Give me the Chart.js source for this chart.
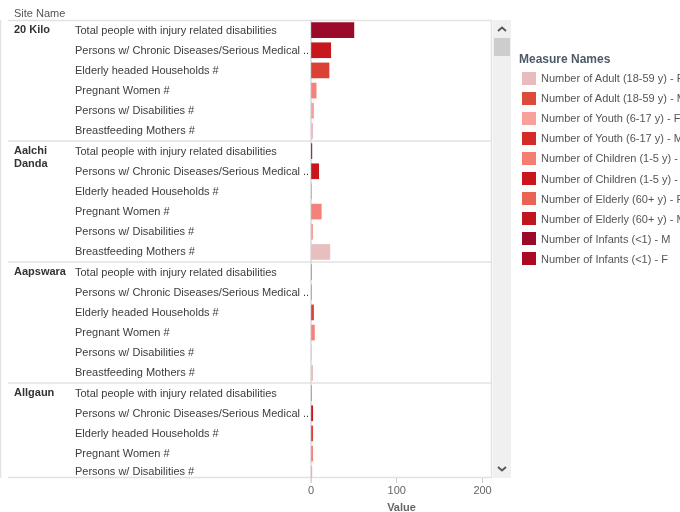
<!DOCTYPE html>
<html><head><meta charset="utf-8">
<script src="https://cdn.jsdelivr.net/npm/chart.js@4/dist/chart.umd.min.js"></script>
<style>
html,body{margin:0;padding:0;background:#fff;overflow:hidden;}
#wrap{position:relative;width:680px;height:512px;overflow:hidden;font-family:Arial,"Liberation Sans",sans-serif;}
#c{position:absolute;left:0;top:0;}
.track{position:absolute;left:493px;top:20px;width:18px;height:458px;background:#f0f0f0;}
.thumb{position:absolute;left:494px;top:38px;width:16px;height:18px;background:#cdcdcd;}
.arrow{position:absolute;left:497px;width:10px;height:6px;}
.lg-title{position:absolute;left:519px;top:51px;font:bold 12px Arial,"Liberation Sans",sans-serif;color:#4e5a6a;white-space:nowrap;line-height:16px;}
.lg-sw{position:absolute;left:522px;width:14px;height:13px;}
.lg-tx{position:absolute;left:541px;font:11px Arial,"Liberation Sans",sans-serif;color:#555;white-space:nowrap;line-height:14px;}
</style>
</head><body>
<div id="wrap">
<canvas id="c" width="680" height="512"></canvas>
<div class="track"></div>
<div class="thumb"></div>
<svg class="arrow" style="top:26px" viewBox="0 0 10 6"><polyline points="1,5 5,1.5 9,5" fill="none" stroke="#555" stroke-width="1.8"/></svg>
<svg class="arrow" style="top:466px" viewBox="0 0 10 6"><polyline points="1,1 5,4.5 9,1" fill="none" stroke="#555" stroke-width="1.8"/></svg>
<div class="lg-title">Measure Names</div>
<div id="legend"></div>
</div>
<script>
// ---- data ----
const sites = ['20 Kilo', 'Aalchi Danda', 'Aapswara', 'Allgaun'];
const measures = [
  'Total people with injury related disabilities',
  'Persons w/ Chronic Diseases/Serious Medical ..',
  'Elderly headed Households #',
  'Pregnant Women #',
  'Persons w/ Disabilities #',
  'Breastfeeding Mothers #'
];
const measureColors = ['#9b0a2a', '#c8171c', '#dc4136', '#f4827a', '#f6a19b', '#e8bfc0'];
const values20Kilo = [50, 23, 21, 6, 3, 2];
const valuesAalchiDanda = [1, 9, 0, 12, 2, 22];
const valuesAapswara = [0, 0, 3, 4, 0, 2];
const valuesAllgaun = [0, 2, 2, 2, 1];
const siteValues = [values20Kilo, valuesAalchiDanda, valuesAapswara, valuesAllgaun];
const xTicks = [0, 100, 200];
const legendNames = [
  'Number of Adult (18-59 y) - F', 'Number of Adult (18-59 y) - M',
  'Number of Youth (6-17 y) - F', 'Number of Youth (6-17 y) - M',
  'Number of Children (1-5 y) - F', 'Number of Children (1-5 y) - M',
  'Number of Elderly (60+ y) - F', 'Number of Elderly (60+ y) - M',
  'Number of Infants (<1) - M', 'Number of Infants (<1) - F'
];
const legendColors = ['#e8bcbc', '#dc4a3a', '#f7a19a', '#d42b27', '#f47e72', '#c8161c', '#ea6455', '#c0141f', '#9b0a2a', '#aa0a22'];

// ---- legend (HTML) ----
const lg = document.getElementById('legend');
legendNames.forEach((n, i) => {
  const cy = 78 + i * 20.1;
  const sw = document.createElement('div');
  sw.className = 'lg-sw'; sw.style.top = (cy - 6.5) + 'px'; sw.style.background = legendColors[i];
  const tx = document.createElement('div');
  tx.className = 'lg-tx'; tx.style.top = (cy - 7) + 'px'; tx.textContent = n;
  lg.appendChild(sw); lg.appendChild(tx);
});

// ---- build points ----
const rowsPerSite = measures.length;
const points = [], colors = [];
siteValues.forEach((vals, s) => {
  vals.forEach((v, m) => {
    points.push({ x: v, y: s * rowsPerSite + m });
    colors.push(measureColors[m]);
  });
});

const FONT = 'Arial, "Liberation Sans", sans-serif';

const rowLabels = {
  id: 'rowLabels',
  beforeDatasetsDraw(chart) {
    const ctx = chart.ctx, ys = chart.scales.y, xs = chart.scales.x, a = chart.chartArea;
    ctx.save();
    ctx.fillStyle = '#555';
    ctx.font = '11px ' + FONT;
    ctx.textAlign = 'left'; ctx.textBaseline = 'middle';
    ctx.fillText('Site Name', 14, 14);
    // frame lines
    ctx.strokeStyle = '#e2e2e2'; ctx.lineWidth = 1.5;
    const hline = (yy) => { ctx.beginPath(); ctx.moveTo(8, yy); ctx.lineTo(a.right, yy); ctx.stroke(); };
    hline(a.top + 0.5);
    sites.forEach((s, i) => { if (i > 0) hline(ys.getPixelForValue(i * rowsPerSite - 0.5)); });
    hline(a.bottom - 0.5);
    ctx.beginPath(); ctx.moveTo(0.5, a.top); ctx.lineTo(0.5, a.bottom); ctx.stroke();
    ctx.beginPath(); ctx.moveTo(a.right - 0.5, a.top); ctx.lineTo(a.right - 0.5, a.bottom); ctx.stroke();
    // zero line
    ctx.strokeStyle = '#d8d8d8';
    const x0 = xs.getPixelForValue(0);
    ctx.beginPath(); ctx.moveTo(x0, a.top); ctx.lineTo(x0, a.bottom + 5); ctx.stroke();
    // labels
    ctx.beginPath(); ctx.rect(0, a.top, a.left, a.bottom - a.top); ctx.clip();
    sites.forEach((s, si) => {
      const rowTop = ys.getPixelForValue(si * rowsPerSite - 0.5);
      ctx.font = 'bold 11px ' + FONT; ctx.fillStyle = '#333';
      const words = s.split(' '); const lines = []; let cur = '';
      words.forEach(w => { const t = cur ? cur + ' ' + w : w; if (ctx.measureText(t).width > 56 && cur) { lines.push(cur); cur = w; } else cur = t; });
      lines.push(cur);
      lines.forEach((l, li) => ctx.fillText(l, 14, rowTop + 9.5 + li * 13));
      ctx.font = '11px ' + FONT; ctx.fillStyle = '#3c3c3c';
      siteValues[si].forEach((v, m) => {
        let yy = ys.getPixelForValue(si * rowsPerSite + m);
        if (yy > a.bottom - 7) yy = a.bottom - 7;
        ctx.fillText(measures[m], 75, yy + 0.5);
      });
    });
    ctx.restore();
  }
};

new Chart(document.getElementById('c'), {
  type: 'bar',
  data: { datasets: [{ data: points, backgroundColor: colors, borderWidth: 0, barThickness: 15 }] },
  options: {
    indexAxis: 'y',
    responsive: false,
    animation: false,
    layout: { padding: { left: 311, right: 188, top: 20, bottom: 0 } },
    plugins: { legend: { display: false }, tooltip: { enabled: false } },
    scales: {
      y: { type: 'linear', reverse: true, min: -0.5, max: 22.21, offset: false, display: false, grid: { offset: false } },
      x: {
        type: 'linear', min: 0, max: 211,
        afterFit(s) { s.height = 34; },
        afterBuildTicks(s) { s.ticks = xTicks.map(v => ({ value: v })); },
        grid: { drawOnChartArea: false, drawTicks: true, tickLength: 5, color: '#cfcfcf' },
        border: { display: false },
        ticks: { font: { size: 11, family: FONT }, color: '#666', padding: 1, maxRotation: 0 },
        title: { display: true, text: 'Value', font: { size: 11, weight: 'bold', family: FONT }, color: '#666', padding: { top: 0, bottom: -2.5 } }
      }
    }
  },
  plugins: [rowLabels]
});
</script>
</body></html>
